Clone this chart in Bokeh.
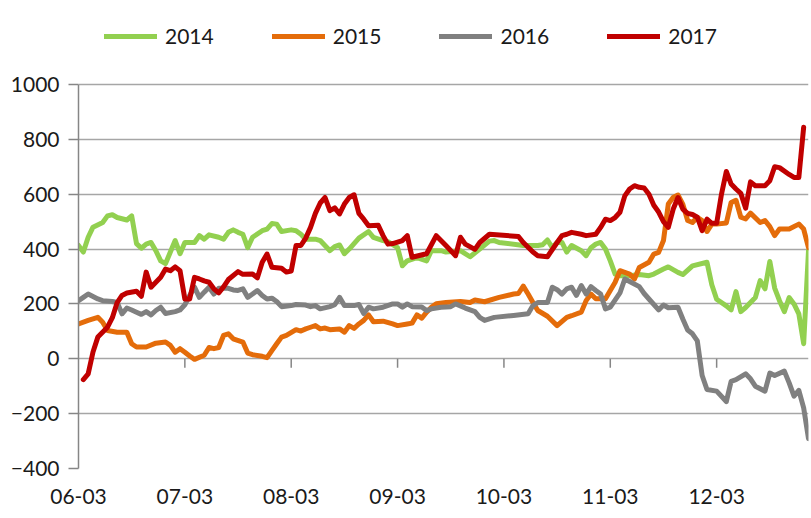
from bokeh.plotting import figure
from bokeh.models import Range1d, FixedTicker, Legend, LegendItem
from bokeh.embed import file_html
from bokeh.resources import INLINE

# ---- data (trading-day index from 06-03, value) ----
month_labels = ["06-03", "07-03", "08-03", "09-03", "10-03", "11-03", "12-03"]
month_pos = [0, 22, 44, 66, 88, 110, 132]
y_ticks = [-400, -200, 0, 200, 400, 600, 800, 1000]

d2014 = [0,1,2,3,5,6,7,8,10,11,12,13,14,15,16,17,18,19,20,21,22,23,24,25,26,27,29,30,31,32,33,34,35,36,38,39,40,41,42,44,45,46,47,49,50,52,53,54,55,56,58,60,61,63,64,66,67,68,70,72,73,75,76,79,81,83,85,86,87,92,95,96,97,98,99,100,101,102,104,105,106,107,108,109,110,111,112,114,116,118,119,121,122,124,125,127,130,131,132,134,135,136,137,138,140,141,142,143,144,145,146,147,148,149,150,151]
v2014 = [413,389,443,480,497,521,525,515,506,521,420,403,418,424,394,357,347,389,431,383,424,424,424,449,436,452,443,436,461,470,461,454,405,443,467,473,493,491,464,470,467,454,436,436,431,394,409,415,383,400,440,464,443,431,427,405,339,357,369,357,394,394,389,394,372,400,429,431,424,413,413,416,433,405,424,424,389,413,394,376,405,418,424,400,357,309,303,303,307,303,309,327,335,315,307,339,352,270,217,193,178,245,172,187,223,285,255,355,258,212,172,223,200,164,55,394]

d2015 = [0,2,4,5,6,8,10,11,12,14,16,18,19,20,21,22,23,24,26,27,28,29,30,31,32,34,35,36,38,39,40,41,42,43,45,46,47,48,49,50,51,52,54,55,56,57,58,59,60,61,63,65,66,68,69,70,71,72,73,74,76,79,81,82,84,87,90,91,92,93,94,95,97,99,101,102,104,105,106,107,109,110,111,112,114,115,116,118,119,120,121,122,123,124,125,126,127,128,129,130,131,132,134,135,136,137,138,139,141,142,143,144,145,147,149,150,151]
v2015 = [127,140,151,133,103,97,97,55,43,43,57,61,49,24,37,24,10,-2,13,41,37,41,85,91,73,61,21,15,9,4,30,55,79,85,106,101,109,115,121,109,112,106,109,97,121,111,127,140,160,135,137,127,121,127,130,160,148,170,188,201,205,209,205,214,208,224,236,238,265,236,205,176,155,121,151,157,170,212,236,219,219,249,279,321,309,291,333,352,382,388,431,564,588,597,564,504,497,516,504,464,491,491,495,570,578,516,510,531,497,504,482,449,473,473,491,473,405]

d2016 = [0,1,2,4,5,7,8,9,10,11,12,13,14,15,16,17,18,20,21,22,23,24,25,26,27,28,29,31,32,33,34,35,36,37,38,39,40,41,42,44,45,47,48,49,50,52,53,54,55,57,58,59,60,61,63,65,66,67,68,69,71,72,73,75,77,78,79,80,82,83,84,86,90,93,94,95,97,98,99,100,101,102,103,104,105,106,107,108,109,110,112,113,114,116,117,118,120,121,122,124,125,126,127,128,129,130,132,134,135,136,138,139,140,142,143,144,146,147,148,149,150,151]
v2016 = [212,224,236,218,212,209,205,164,185,178,170,162,172,160,176,188,165,172,178,197,231,261,224,243,261,236,257,257,251,249,255,224,236,249,231,218,221,209,190,194,198,196,190,194,182,190,197,224,194,194,198,165,188,182,188,200,200,188,200,190,189,176,182,188,190,200,193,185,172,151,140,151,158,164,194,205,205,261,252,236,255,261,231,267,236,263,249,236,182,188,240,291,282,263,238,218,178,196,186,188,145,105,91,65,-61,-112,-118,-156,-82,-76,-55,-73,-100,-118,-52,-61,-45,-88,-136,-115,-179,-291]

d2017 = [1,2,3,4,6,7,8,9,10,12,13,14,15,16,17,18,19,20,21,22,23,24,25,26,27,28,29,30,31,33,34,36,37,38,39,40,42,43,44,45,46,47,48,49,50,51,52,53,54,55,56,57,58,59,60,62,63,64,65,67,68,69,72,74,76,78,79,80,82,83,85,91,92,94,95,97,99,100,101,102,104,105,107,108,109,110,111,112,113,114,115,116,117,118,119,120,121,122,123,124,125,126,127,128,129,130,131,132,133,134,135,136,137,138,139,140,142,143,144,145,147,148,149,150]
v2017 = [-76,-55,25,79,115,150,205,231,240,246,228,316,261,279,297,327,321,335,321,218,218,297,291,284,279,255,240,262,289,318,308,309,295,352,382,334,330,316,320,413,413,440,479,530,568,588,540,550,528,564,588,598,530,509,485,487,449,418,420,431,449,370,383,449,413,376,443,418,399,424,454,446,424,389,376,372,424,449,454,461,454,449,454,479,509,504,515,534,594,619,631,625,623,600,560,535,500,479,545,588,546,530,526,516,467,509,494,494,600,683,637,619,603,549,645,631,631,649,700,697,672,661,661,844]

series = [
    ("2014", d2014, v2014, "#92D050"),
    ("2015", d2015, v2015, "#E46C0A"),
    ("2016", d2016, v2016, "#808080"),
    ("2017", d2017, v2017, "#C00000"),
]

FONT = "Lato"
FS = "21px"
GRID = "#A6A6A6"

# value axis occupies 384 px for -400..1000; the frame extends 84 px higher to host the legend
axis_px = 384
per_px = (1000 - (-400)) / axis_px
top_px = 84
frame_h = axis_px + top_px

p = figure(width=811, height=518, output_backend="svg", toolbar_location=None,
           x_range=Range1d(0, 151), y_range=Range1d(-400, 1000 + top_px * per_px),
           min_border_left=78, min_border_right=3, min_border_top=0, min_border_bottom=50)
p.outline_line_color = None
p.background_fill_color = "white"
p.border_fill_color = "white"

# axes
p.yaxis.ticker = FixedTicker(ticks=y_ticks)
p.yaxis.bounds = (-400, 1000)
p.yaxis.axis_line_color = "#868686"
p.yaxis.axis_line_width = 1.5
p.yaxis.major_tick_line_color = "#868686"
p.yaxis.major_tick_line_width = 1.5
p.yaxis.major_tick_out = 10
p.yaxis.major_tick_in = 0
p.yaxis.minor_tick_line_color = None
p.yaxis.major_label_text_font = FONT
p.yaxis.major_label_text_font_size = FS
p.yaxis.major_label_text_color = "#1a1a1a"
p.yaxis.major_label_standoff = 9

p.xaxis.ticker = FixedTicker(ticks=month_pos)
p.xaxis.major_label_overrides = {pos: lab for pos, lab in zip(month_pos, month_labels)}
p.xaxis.axis_line_color = None
p.xaxis.major_tick_line_color = None
p.xaxis.minor_tick_line_color = None
p.xaxis.major_tick_out = 0
p.xaxis.major_label_text_font = FONT
p.xaxis.major_label_text_font_size = FS
p.xaxis.major_label_text_color = "#1a1a1a"
p.xaxis.major_label_standoff = 20

p.xgrid.grid_line_color = None
p.ygrid.ticker = FixedTicker(ticks=y_ticks)
p.ygrid.grid_line_color = GRID
p.ygrid.grid_line_width = 1.5

# category-axis tick marks crossing at zero
tick_len = 9 * per_px
p.segment(x0=month_pos[1:], y0=[0] * 6, x1=month_pos[1:], y1=[-tick_len] * 6,
          line_color="#868686", line_width=1.5)

items = []
for name, xs, ys, col in series:
    r = p.line(xs, ys, line_color=col, line_width=5, line_join="round", line_cap="round")
    items.append(LegendItem(label=name, renderers=[r]))

legend = Legend(items=items, orientation="horizontal", location=(26, frame_h - 48),
                glyph_width=53, glyph_height=20, label_height=20, label_standoff=8,
                spacing=58, padding=0, margin=0,
                label_text_font=FONT, label_text_font_size=FS, label_text_color="#1a1a1a",
                background_fill_alpha=0, border_line_alpha=0)
p.add_layout(legend, "center")

open("out.html", "w").write(file_html(p, INLINE))
